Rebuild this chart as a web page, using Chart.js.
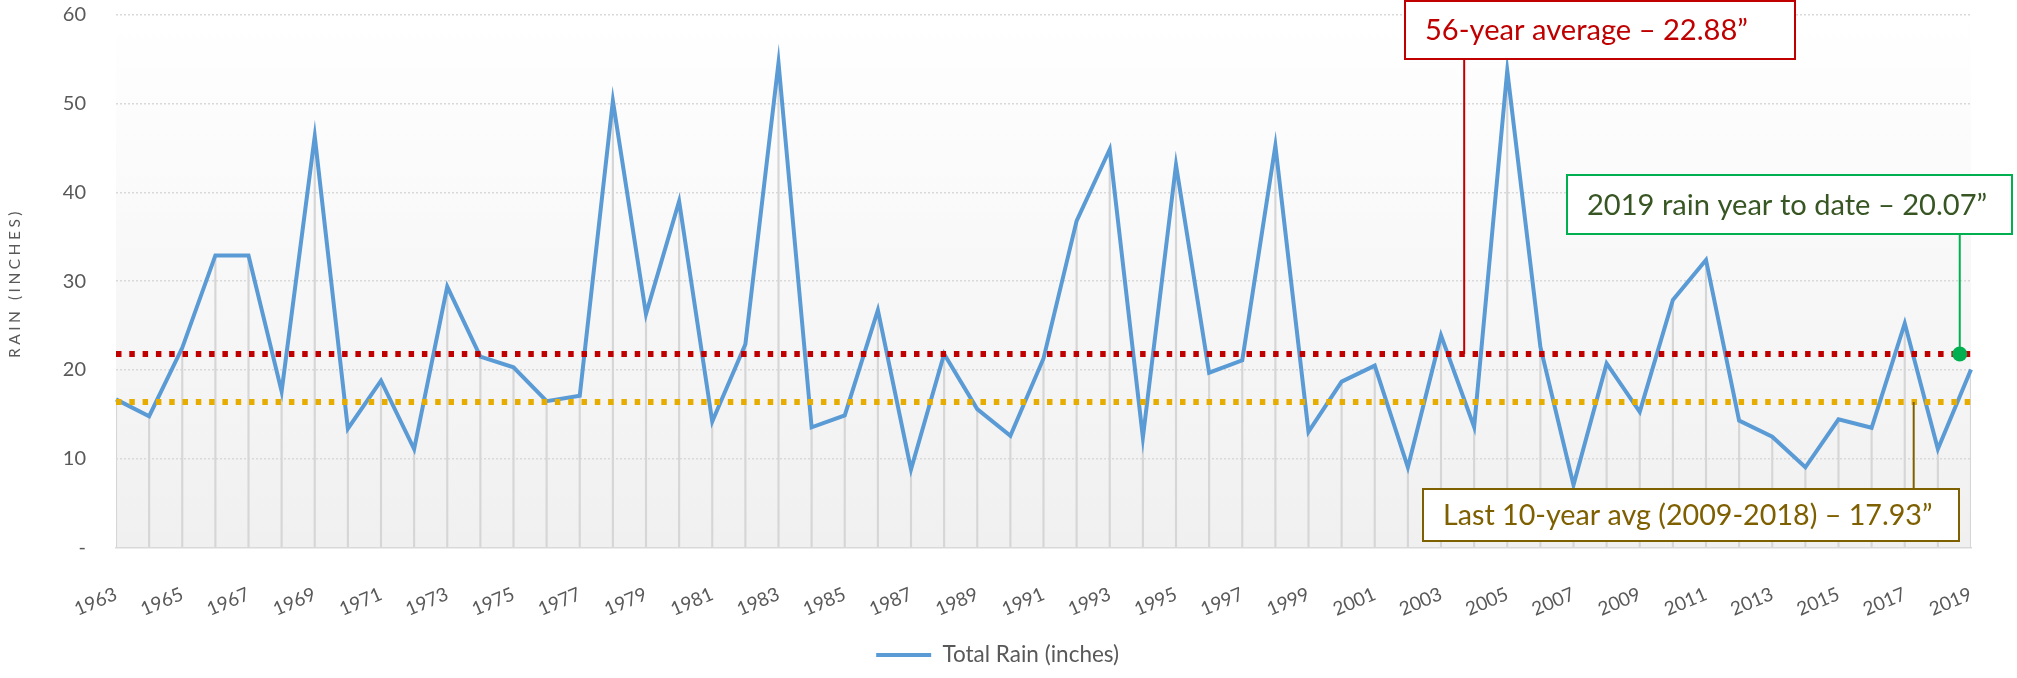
<!DOCTYPE html>
<html>
<head>
<meta charset="utf-8">
<script src="https://cdn.jsdelivr.net/npm/chart.js@4.4.1/dist/chart.umd.min.js"></script>
<style>
  html, body { margin: 0; padding: 0; background: #fff; }
</style>
</head>
<body>
<canvas id="chart-rain" width="2017" height="678"></canvas>
<script>
// Data
const years = ['1963', '1964', '1965', '1966', '1967', '1968', '1969', '1970', '1971', '1972',
  '1973', '1974', '1975', '1976', '1977', '1978', '1979', '1980', '1981', '1982',
  '1983', '1984', '1985', '1986', '1987', '1988', '1989', '1990', '1991', '1992',
  '1993', '1994', '1995', '1996', '1997', '1998', '1999', '2000', '2001', '2002',
  '2003', '2004', '2005', '2006', '2007', '2008', '2009', '2010', '2011', '2012',
  '2013', '2014', '2015', '2016', '2017', '2018', '2019'];
const totalRain = [16.7, 14.8, 22.5, 32.9, 32.9, 17.6, 46.3, 13.4, 18.8, 11.1,
  29.4, 21.5, 20.3, 16.5, 17.1, 50.3, 26.3, 39.0, 14.2, 22.9,
  54.6, 13.55, 14.9, 26.75, 8.8, 21.8, 15.6, 12.6, 21.3, 36.8,
  44.85, 12.4, 43.1, 19.7, 21.1, 45.25, 13.05, 18.7, 20.5, 9.05,
  23.9, 13.6, 53.7, 22.6, 7.06, 20.75, 15.3, 27.9, 32.4, 14.3,
  12.5, 9.05, 14.45, 13.5, 25.26, 11.1, 20.07];
// dotted reference lines (levels as drawn)
const avgAllLevel = 21.8;
const avg10Level = 16.4;
const yTickLabels = ['-', '10', '20', '30', '40', '50', '60'];

const GREY_TEXT = '#595959';
const GRID_GREY = '#d9d9d9';
const NONE = 'rgba(0,0,0,0)';

// Callouts
const callouts = [
    { text: '56-year average \u2013 22.88\u201D', color: '#C00000', border: '#C00000',
      box: [1405, 1, 1795, 59], textW: 323, at: [40.7, avgAllLevel], dot: false },
    { text: '2019 rain year to date \u2013 20.07\u201D', color: '#375623', border: '#00B050',
      box: [1567, 175, 2012, 234], textW: 400, at: [55.66, avgAllLevel], dot: true },
    { text: 'Last 10-year avg (2009-2018) \u2013 17.93\u201D', color: '#7F6000', border: '#7F6000',
      box: [1423, 489, 1959, 541], textW: 490, at: [54.27, avg10Level], dot: false }
];

Chart.defaults.font.family = 'Lato, "Noto Sans", sans-serif';
Chart.defaults.color = GREY_TEXT;

const extras = {
    id: 'rainExtras',
    beforeDraw(chart) {
        const { ctx, chartArea: a } = chart;
        const g = ctx.createLinearGradient(0, a.top, 0, a.bottom);
        g.addColorStop(0, '#ffffff');
        g.addColorStop(1, '#f0f0f0');
        ctx.save();
        ctx.fillStyle = g;
        ctx.fillRect(a.left, a.top, a.right - a.left, a.bottom - a.top);
        ctx.restore();
    },
    afterDraw(chart) {
        const { ctx, scales } = chart;
        ctx.save();

        // y axis title
        ctx.translate(15, 283);
        ctx.rotate(-Math.PI / 2);
        ctx.font = '15.5px Lato';
        ctx.letterSpacing = '3.5px';
        ctx.fillStyle = GREY_TEXT;
        ctx.textAlign = 'center';
        ctx.textBaseline = 'middle';
        ctx.fillText('RAIN (INCHES)', 0, 0);
        ctx.restore();

        callouts.forEach(c => {
            const ax = scales.x.getPixelForValue(c.at[0]);
            const ay = scales.y.getPixelForValue(c.at[1]);
            const [l, t, r, b] = c.box;
            const edge = ay > b ? b : t;
            ctx.save();
            ctx.strokeStyle = c.border;
            ctx.lineWidth = 2;
            ctx.beginPath();
            ctx.moveTo(ax, edge);
            ctx.lineTo(ax, ay);
            ctx.stroke();
            if (c.dot) {
                ctx.fillStyle = c.border;
                ctx.beginPath();
                ctx.arc(ax, ay, 7.5, 0, Math.PI * 2);
                ctx.fill();
            }
            ctx.fillStyle = '#ffffff';
            ctx.fillRect(l, t, r - l, b - t);
            ctx.strokeRect(l, t, r - l, b - t);

            ctx.font = '28px Lato';
            const size = 28 * c.textW / ctx.measureText(c.text).width;
            ctx.font = size.toFixed(1) + 'px Lato';
            ctx.fillStyle = c.color;
            ctx.textAlign = 'left';
            ctx.textBaseline = 'middle';
            ctx.fillText(c.text, l + 20, (t + b) / 2 + 1);
            ctx.restore();
        });
    }
};

const ctx = document.getElementById('chart-rain').getContext('2d');
new Chart(ctx, {
    type: 'line',
    data: {
        labels: years,
        datasets: [
            {
                label: 'Total Rain (inches)',
                data: totalRain,
                borderColor: '#5B9BD5',
                backgroundColor: '#5B9BD5',
                borderWidth: 4,
                pointRadius: 0,
                tension: 0,
                order: 2
            },
            {
                label: 'avg-all',
                data: [{ x: years[0], y: avgAllLevel }, { x: years[years.length - 1], y: avgAllLevel }],
                borderColor: '#C00000',
                borderWidth: 6,
                borderDash: [5.5, 7.8],
                pointRadius: 0,
                order: 1
            },
            {
                label: 'avg-10',
                data: [{ x: years[0], y: avg10Level }, { x: years[years.length - 1], y: avg10Level }],
                borderColor: '#E6AD00',
                borderWidth: 6,
                borderDash: [5.5, 7.8],
                pointRadius: 0,
                order: 1
            },
            {
                // drop lines
                type: 'bar',
                label: 'drop',
                data: totalRain,
                backgroundColor: '#d6d6d6',
                barThickness: 1.5,
                order: 3
            }
        ]
    },
    options: {
        responsive: false,
        animation: false,
        layout: { padding: { left: 24.25, right: 46, top: 14.7, bottom: 1.75 } },
        plugins: {
            tooltip: { enabled: false },
            legend: {
                position: 'bottom',
                labels: {
                    filter: item => item.datasetIndex === 0,
                    usePointStyle: true,
                    pointStyle: 'line',
                    pointStyleWidth: 55,
                    padding: 10,
                    color: GREY_TEXT,
                    font: { size: 22.5 }
                }
            }
        },
        scales: {
            x: {
                offset: false,
                grid: { display: false, drawTicks: false },
                border: { display: true, color: GRID_GREY, width: 1.5 },
                ticks: {
                    autoSkip: false,
                    minRotation: 23,
                    maxRotation: 23,
                    padding: 35,
                    color: GREY_TEXT,
                    font: { size: 19 },
                    callback: (v, i) => (i % 2 === 0 ? years[i] : '')
                },
                afterFit: s => { s.height = 86.05; }
            },
            y: {
                min: 0,
                max: 60,
                ticks: {
                    stepSize: 10,
                    padding: 2,
                    color: GREY_TEXT,
                    font: { size: 20 },
                    callback: (v, i) => yTickLabels[i]
                },
                grid: {
                    color: c => (c.tick && c.tick.value === 0 ? NONE : GRID_GREY),
                    lineWidth: 1.5,
                    drawTicks: true,
                    tickLength: 28,
                    tickColor: NONE
                },
                border: { display: false, dash: [2, 2] },
                afterFit: s => { s.width = 91.75; }
            }
        }
    },
    plugins: [extras]
});
</script>
</body>
</html>
